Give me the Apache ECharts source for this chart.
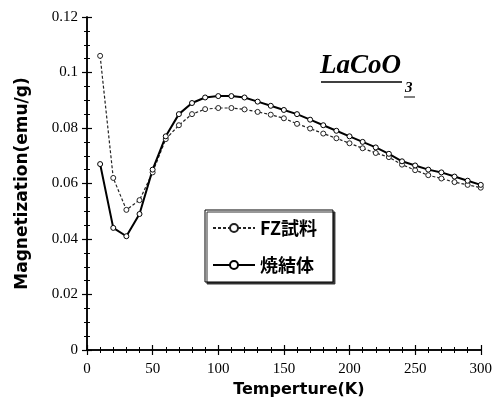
<!DOCTYPE html>
<html>
<head>
<meta charset="utf-8">
<script src="https://cdn.jsdelivr.net/npm/echarts@6/dist/echarts.min.js"></script>
<style>
  html, body { margin: 0; padding: 0; background: #fff; }
  #chart { width: 495px; height: 409px; }
</style>
</head>
<body>
<div id="chart"></div>
<script>
// temperature (K)
var temps = [10, 20, 30, 40, 50, 60, 70, 80, 90, 100, 110, 120, 130, 140, 150,
  160, 170, 180, 190, 200, 210, 220, 230, 240, 250, 260, 270, 280, 290, 300];
// FZ sample, dotted line
var fzValues = [0.106, 0.062, 0.0505, 0.054, 0.064, 0.076, 0.081, 0.085, 0.0868, 0.0872,
  0.0872, 0.0867, 0.0858, 0.0848, 0.0835, 0.0815, 0.0798, 0.078, 0.0763, 0.0745,
  0.0727, 0.071, 0.0695, 0.0668, 0.0648, 0.063, 0.0618, 0.0605, 0.0595, 0.0585];
// sintered body, solid line
var sinterValues = [0.067, 0.044, 0.041, 0.049, 0.065, 0.077, 0.085, 0.089, 0.091, 0.0915,
  0.0915, 0.091, 0.0895, 0.088, 0.0865, 0.085, 0.083, 0.081, 0.079, 0.077,
  0.075, 0.073, 0.0707, 0.068, 0.0665, 0.065, 0.064, 0.0625, 0.061, 0.0595];
var seriesNames = ["FZ試料", "焼結体"];

var pairs = function (ys) {
  return temps.map(function (t, i) { return [t, ys[i]]; });
};

var tickStyle = { inside: true, length: 5, lineStyle: { color: "#000", width: 1.2 } };
var minorX = { show: true, splitNumber: 5, length: 3, lineStyle: { color: "#000", width: 1 } };
var minorY = { show: true, splitNumber: 4, length: 3, lineStyle: { color: "#000", width: 1 } };
var titleFont = { fontFamily: "Liberation Serif", fontStyle: "italic", fontWeight: "bold", fill: "#000" };

var chart = echarts.init(document.getElementById("chart"));
chart.setOption({
  backgroundColor: "#fff",
  animation: false,
  grid: { left: 87, right: 8, top: 17, bottom: 59 },
  legend: {
    left: 205, top: 210,
    orient: "vertical",
    itemWidth: 42, itemHeight: 10, itemGap: 19,
    padding: [9, 16, 8, 7],
    borderColor: "#000", borderWidth: 1,
    backgroundColor: "#fff",
    shadowColor: "#333", shadowOffsetX: 2, shadowOffsetY: 2, shadowBlur: 0,
    textStyle: { fontFamily: "Noto Sans CJK JP", fontWeight: "bold", fontSize: 18, color: "#000" },
    data: seriesNames
  },
  graphic: [
    { type: "text", left: 320, top: 53, style: Object.assign({ text: "LaCoO", fontSize: 27 }, titleFont) },
    { type: "text", left: 405, top: 81, style: Object.assign({ text: "3", fontSize: 15 }, titleFont) },
    { type: "line", shape: { x1: 321, y1: 82, x2: 402, y2: 82 }, style: { stroke: "#000", lineWidth: 1.3 } },
    { type: "line", shape: { x1: 404, y1: 97, x2: 415, y2: 97 }, style: { stroke: "#000", lineWidth: 1 } }
  ],
  xAxis: [
    {
      type: "value", min: 0, max: 300, interval: 50,
      name: "Temperture(K)", nameLocation: "middle", nameGap: 26,
      nameTextStyle: { fontFamily: "DejaVu Sans", fontWeight: "bold", fontSize: 16, color: "#000", padding: [0, 0, 0, 30] },
      axisLine: { lineStyle: { color: "#000", width: 1.5 } },
      axisTick: tickStyle, minorTick: minorX,
      splitLine: { show: false },
      axisLabel: { margin: 12, fontFamily: "Liberation Serif", fontSize: 15, color: "#000" }
    },
    {
      type: "value", position: "top", min: 0, max: 300, interval: 50,
      axisLine: { lineStyle: { color: "#000", width: 1.5 } },
      axisTick: tickStyle, minorTick: minorX,
      splitLine: { show: false }, axisLabel: { show: false }
    }
  ],
  yAxis: [
    {
      type: "value", min: 0, max: 0.12, interval: 0.02,
      name: "Magnetization(emu/g)", nameLocation: "middle", nameGap: 56,
      nameTextStyle: { fontFamily: "DejaVu Sans", fontWeight: "bold", fontSize: 17, color: "#000" },
      axisLine: { show: true, lineStyle: { color: "#000", width: 1.5 } },
      axisTick: tickStyle, minorTick: minorY,
      splitLine: { show: false },
      axisLabel: { margin: 9, fontFamily: "Liberation Serif", fontSize: 15, color: "#000" }
    },
    {
      type: "value", position: "right", min: 0, max: 0.12, interval: 0.02,
      axisLine: { show: true, lineStyle: { color: "#000", width: 1.5 } },
      axisTick: tickStyle, minorTick: minorY,
      splitLine: { show: false }, axisLabel: { show: false }
    }
  ],
  series: [
    {
      name: seriesNames[0], type: "line", data: pairs(fzValues),
      symbol: "circle", symbolSize: 5,
      lineStyle: { color: "#222", width: 1.2, type: [3, 2] },
      itemStyle: { color: "#fff", borderColor: "#222", borderWidth: 1 }
    },
    {
      name: seriesNames[1], type: "line", data: pairs(sinterValues),
      symbol: "circle", symbolSize: 5,
      lineStyle: { color: "#000", width: 2 },
      itemStyle: { color: "#fff", borderColor: "#000", borderWidth: 1 }
    }
  ]
});
</script>
</body>
</html>
